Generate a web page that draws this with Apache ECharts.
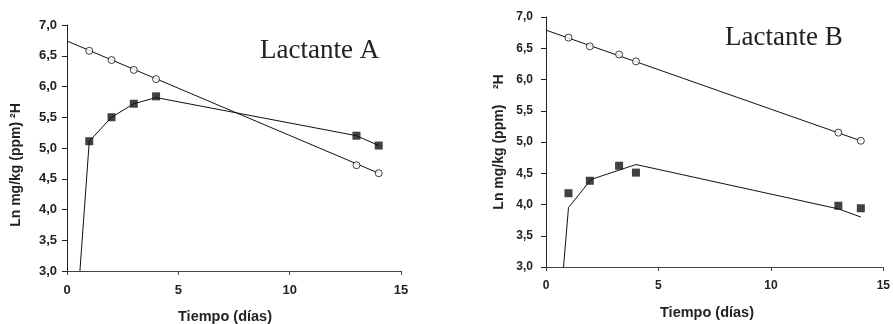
<!DOCTYPE html>
<html><head><meta charset="utf-8">
<script src="https://cdn.jsdelivr.net/npm/echarts@6/dist/echarts.min.js"></script>
<style>html,body{margin:0;padding:0;background:#fff}#c{width:893px;height:324px}</style>
</head><body><div id="c"></div>
<script>
// ---- Data ----
const xTicks = [0, 5, 10, 15];
const yTicks = [3.0, 3.5, 4.0, 4.5, 5.0, 5.5, 6.0, 6.5, 7.0];

const daysA = [1, 2, 3, 4, 13, 14];
const circA = [6.58, 6.43, 6.27, 6.12, 4.72, 4.59];
const sqA = [5.11, 5.50, 5.72, 5.84, 5.20, 5.04];
const fitCircAX = [0, 14];
const fitCircAY = [6.74, 4.59];
const fitSqAX = [0.58, 1, 2, 3, 4, 13, 14];
const fitSqAY = [3.0, 5.11, 5.50, 5.72, 5.82, 5.20, 5.04];

const daysB = [1, 1.95, 3.25, 4, 13, 14];
const circB = [6.67, 6.53, 6.40, 6.29, 5.15, 5.02];
const sqB = [4.18, 4.38, 4.62, 4.51, 3.98, 3.94];
const fitCircBX = [0, 14];
const fitCircBY = [6.79, 5.02];
const fitSqBX = [0.78, 1, 2, 4, 13, 14];
const fitSqBY = [3.0, 3.95, 4.40, 4.64, 3.93, 3.80];

const titles = ['Lactante A', 'Lactante B'];
const xName = 'Tiempo (días)';
const yNameA = 'Ln mg/kg (ppm) ²H';
const yNameB = 'Ln mg/kg (ppm)    ²H';

const zip = (xs, ys) => xs.map((x, i) => [x, ys[i]]);
const fmt = v => v.toFixed(1).replace('.', ',');
const font = 'Liberation Sans, Arial, sans-serif';

function xAxis(gi, fs, margin) {
  return {
    type: 'value', gridIndex: gi, min: 0, max: 15, interval: 5,
    axisLine: { show: true, lineStyle: { color: '#444', width: 1 } },
    axisTick: { show: true, length: 4, lineStyle: { color: '#444' } },
    splitLine: { show: false },
    axisLabel: { fontFamily: font, fontWeight: 'bold', fontSize: fs, color: '#222', margin: margin }
  };
}
function yAxis(gi, fs, margin) {
  return {
    type: 'value', gridIndex: gi, min: 3, max: 7, interval: 0.5,
    axisLine: { show: true, onZero: false, lineStyle: { color: '#222', width: 1 } },
    axisTick: { show: true, length: 5, lineStyle: { color: '#222' } },
    splitLine: { show: false },
    axisLabel: { fontFamily: font, fontWeight: 'bold', fontSize: fs, color: '#222', margin: margin, formatter: fmt }
  };
}
const lineS = (gi, data) => ({
  type: 'line', xAxisIndex: gi, yAxisIndex: gi, data: data, showSymbol: false, symbol: 'none',
  lineStyle: { color: '#111', width: 1 }, silent: true, z: 2
});
const circS = (gi, data) => ({
  type: 'scatter', xAxisIndex: gi, yAxisIndex: gi, data: data, symbol: 'circle', symbolSize: 7,
  itemStyle: { color: '#fff', borderColor: '#111', borderWidth: 1 }, z: 3
});
const sqS = (gi, data) => ({
  type: 'scatter', xAxisIndex: gi, yAxisIndex: gi, data: data, symbol: 'rect', symbolSize: 8,
  itemStyle: { color: '#111' }, z: 3
});

const chart = echarts.init(document.getElementById('c'));
chart.setOption({
  animation: false,
  backgroundColor: '#fff',
  grid: [
    { left: 67, top: 25, width: 334, height: 246 },
    { left: 546, top: 17, width: 340, height: 250 }
  ],
  xAxis: [xAxis(0, 13, 13), xAxis(1, 12, 13)],
  yAxis: [yAxis(0, 13, 10), yAxis(1, 12, 13)],
  series: [
    lineS(0, zip(fitCircAX, fitCircAY)),
    lineS(0, zip(fitSqAX, fitSqAY)),
    circS(0, zip(daysA, circA)),
    sqS(0, zip(daysA, sqA)),
    lineS(1, zip(fitCircBX, fitCircBY)),
    lineS(1, zip(fitSqBX, fitSqBY)),
    circS(1, zip(daysB, circB)),
    sqS(1, zip(daysB, sqB))
  ],
  graphic: [
    { type: 'text', left: 260, top: 37, style: { text: titles[0], font: '27px "Liberation Serif", "Times New Roman", serif', fill: '#222' } },
    { type: 'text', left: 725, top: 24, style: { text: titles[1], font: '27px "Liberation Serif", "Times New Roman", serif', fill: '#222' } },
    { type: 'text', x: 16, y: 165, rotation: Math.PI / 2, style: { text: yNameA, font: 'bold 14px "Liberation Sans", Arial, sans-serif', fill: '#222', align: 'center', verticalAlign: 'middle' } },
    { type: 'text', x: 499, y: 142, rotation: Math.PI / 2, style: { text: yNameB, font: 'bold 14px "Liberation Sans", Arial, sans-serif', fill: '#222', align: 'center', verticalAlign: 'middle' } },
    { type: 'text', x: 225, y: 317, style: { text: xName, font: 'bold 14.5px "Liberation Sans", Arial, sans-serif', fill: '#222', align: 'center', verticalAlign: 'middle' } },
    { type: 'text', x: 707, y: 313, style: { text: xName, font: 'bold 14.5px "Liberation Sans", Arial, sans-serif', fill: '#222', align: 'center', verticalAlign: 'middle' } }
  ]
});
</script></body></html>
